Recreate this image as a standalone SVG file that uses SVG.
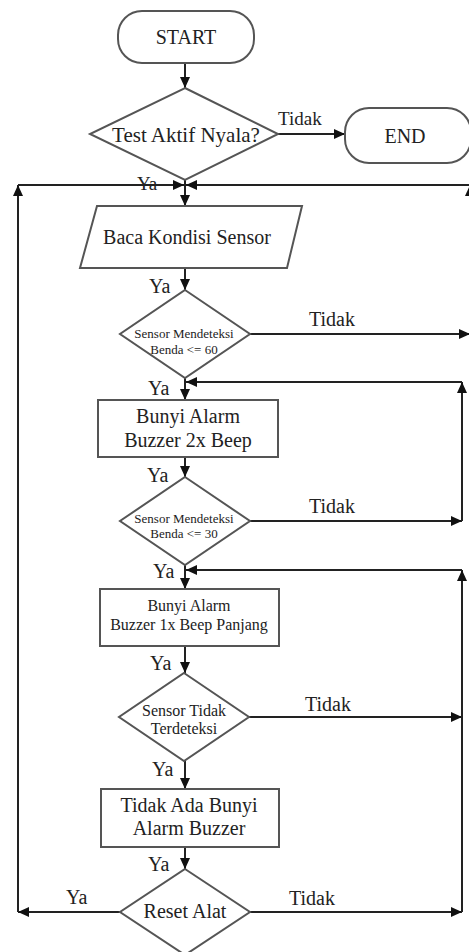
<svg xmlns="http://www.w3.org/2000/svg" width="469" height="952" viewBox="0 0 469 952">
<defs>
<marker id="ah" markerUnits="userSpaceOnUse" markerWidth="12" markerHeight="10" refX="11" refY="5" orient="auto">
<path d="M0,0 L11,5 L0,10 z" fill="#111"/>
</marker>
</defs>
<style>
.shape{fill:#fff;stroke:#555;stroke-width:2}
.conn{fill:none;stroke:#222;stroke-width:2;marker-end:url(#ah)}
.line{fill:none;stroke:#222;stroke-width:2}
text{font-family:"Liberation Serif","Times New Roman",serif;fill:#222}
.c{text-anchor:middle}
.t20{font-size:20px}
.t16{font-size:16px}
.t13{font-size:13px}
.lbl{font-size:19px}
</style>
<rect width="469" height="952" fill="#fff"/>

<g id="connectors">
<line class="conn" x1="185" y1="63" x2="185" y2="88"/>
<line class="conn" x1="278" y1="134" x2="345" y2="134"/>
<line class="line" x1="185" y1="180" x2="185" y2="185"/>
<line class="conn" x1="185" y1="185" x2="185" y2="206"/>
<line class="conn" x1="185" y1="268" x2="185" y2="290"/>
<line class="conn" x1="185" y1="378" x2="185" y2="400"/>
<line class="conn" x1="185" y1="457" x2="185" y2="477"/>
<line class="conn" x1="185" y1="565" x2="185" y2="589"/>
<line class="conn" x1="185" y1="646" x2="185" y2="673"/>
<line class="conn" x1="185" y1="761" x2="185" y2="789"/>
<line class="conn" x1="185" y1="847" x2="185" y2="869"/>
<!-- left loop (Reset Ya) -->
<line class="conn" x1="120" y1="912" x2="18" y2="912"/>
<line class="conn" x1="18" y1="912" x2="18" y2="185"/>
<line class="conn" x1="18" y1="185" x2="184" y2="185"/>
<!-- outer right loop (sensor <= 60 Tidak) -->
<line class="conn" x1="250" y1="334" x2="470" y2="334"/>
<line class="conn" x1="470" y1="334" x2="470" y2="185"/>
<line class="conn" x1="470" y1="185" x2="186" y2="185"/>
<!-- loop to Buzzer 2x Beep -->
<line class="conn" x1="250" y1="521" x2="462" y2="521"/>
<line class="conn" x1="462" y1="521" x2="462" y2="382"/>
<line class="conn" x1="462" y1="382" x2="186" y2="382"/>
<!-- loop to Buzzer 1x Beep Panjang -->
<line class="conn" x1="249" y1="717" x2="462" y2="717"/>
<line class="conn" x1="250" y1="912" x2="462" y2="912"/>
<line class="conn" x1="462" y1="912" x2="462" y2="570"/>
<line class="conn" x1="462" y1="570" x2="186" y2="570"/>
<!-- labels -->
<text class="lbl" x="278" y="125">Tidak</text>
<text class="lbl" x="137" y="190">Ya</text>
<text class="t20" x="149" y="293">Ya</text>
<text class="t20" x="309" y="326">Tidak</text>
<text class="t20" x="148" y="395">Ya</text>
<text class="t20" x="147" y="482">Ya</text>
<text class="t20" x="309" y="513">Tidak</text>
<text class="t20" x="153" y="578">Ya</text>
<text class="t20" x="150" y="670">Ya</text>
<text class="t20" x="305" y="711">Tidak</text>
<text class="t20" x="152" y="776">Ya</text>
<text class="t20" x="148" y="871">Ya</text>
<text class="t20" x="66" y="904">Ya</text>
<text class="t20" x="289" y="905">Tidak</text>
</g>

<g id="start">
<rect class="shape" x="118" y="11" width="136" height="52" rx="24"/>
<text class="t20 c" x="186" y="44">START</text>
</g>
<g id="test-aktif">
<polygon class="shape" points="185,88 278,134 185,180 90,134"/>
<text class="c" style="font-size:21px" x="186" y="142">Test Aktif Nyala?</text>
</g>
<g id="end">
<rect class="shape" x="345" y="108" width="126" height="55" rx="24"/>
<text class="t20 c" x="405" y="143">END</text>
</g>
<g id="baca-sensor">
<polygon class="shape" points="97,206 302,206 287,268 80,268"/>
<text class="t20 c" x="187" y="244">Baca Kondisi Sensor</text>
</g>
<g id="sensor-60">
<polygon class="shape" points="185,290 250,334 185,378 120,334"/>
<text class="t13 c" x="184" y="338">Sensor Mendeteksi</text>
<text class="t13 c" x="184" y="354">Benda &lt;= 60</text>
</g>
<g id="buzzer-2x">
<rect class="shape" x="98" y="400" width="180" height="57"/>
<text class="t20 c" x="188" y="423">Bunyi Alarm</text>
<text class="t20 c" x="188" y="447">Buzzer 2x Beep</text>
</g>
<g id="sensor-30">
<polygon class="shape" points="185,477 250,521 185,565 120,521"/>
<text class="t13 c" x="184" y="523">Sensor Mendeteksi</text>
<text class="t13 c" x="184" y="538">Benda &lt;= 30</text>
</g>
<g id="buzzer-1x">
<rect class="shape" x="100" y="589" width="179" height="57"/>
<text class="t16 c" x="189" y="611">Bunyi Alarm</text>
<text class="t16 c" x="189" y="630">Buzzer 1x Beep Panjang</text>
</g>
<g id="sensor-tidak">
<polygon class="shape" points="184,673 249,717 184,761 119,717"/>
<text class="t16 c" x="184" y="716">Sensor Tidak</text>
<text class="t16 c" x="184" y="734">Terdeteksi</text>
</g>
<g id="tidak-ada-bunyi">
<rect class="shape" x="101" y="789" width="178" height="58"/>
<text class="t20 c" x="189" y="812">Tidak Ada Bunyi</text>
<text class="t20 c" x="189" y="835">Alarm Buzzer</text>
</g>
<g id="reset-alat">
<polygon class="shape" points="185,869 250,912 185,955 120,912"/>
<text class="t20 c" x="185" y="918">Reset Alat</text>
</g>
</svg>
